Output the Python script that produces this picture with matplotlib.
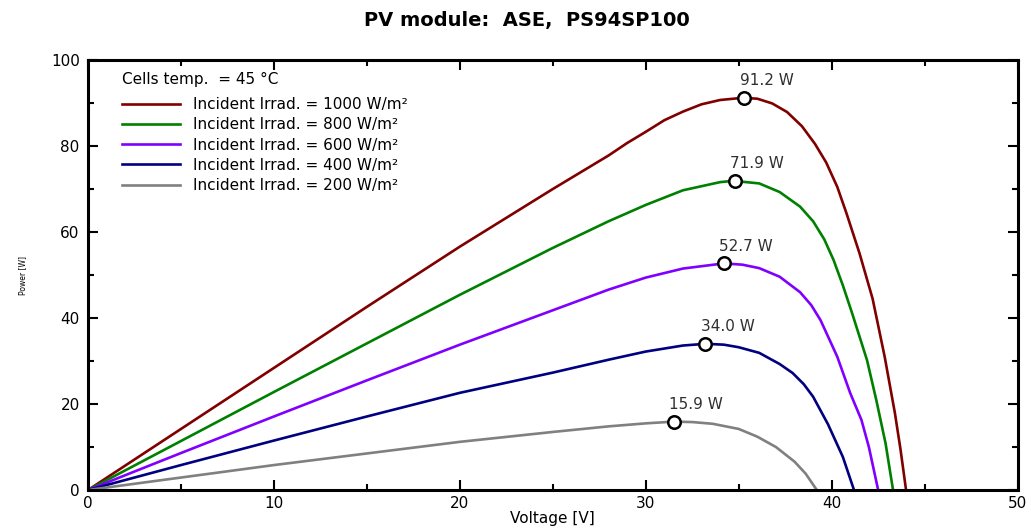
import matplotlib
matplotlib.use("Agg")
import matplotlib.pyplot as plt
from matplotlib.ticker import MultipleLocator

plt.rcParams['font.family'] = ['DejaVu Sans']

# curves: voltage [V] / power [W]
v_1000 = [0, 5, 10, 15, 20, 25, 28, 29, 30, 31, 32, 33, 34, 35.2, 36.0, 36.8, 37.6, 38.4, 39.1, 39.7, 40.3, 40.8, 41.5, 42.2, 42.85, 43.4, 43.7, 44.0]
p_1000 = [0, 14.2, 28.4, 42.6, 56.6, 70.0, 77.8, 80.7, 83.3, 86.0, 88.0, 89.7, 90.7, 91.2, 91.0, 89.9, 87.9, 84.6, 80.5, 76.2, 70.5, 64.3, 55.0, 44.5, 31.0, 17.9, 9.5, 0]
v_800 = [0, 5, 10, 15, 20, 25, 28, 30, 32, 34, 34.7, 36.1, 37.2, 38.3, 39.0, 39.6, 40.1, 40.6, 41.1, 41.9, 42.4, 42.9, 43.3]
p_800 = [0, 11.4, 22.8, 34.1, 45.4, 56.3, 62.5, 66.3, 69.7, 71.6, 71.9, 71.3, 69.3, 65.9, 62.5, 58.3, 53.5, 47.6, 41.1, 30.2, 20.9, 10.8, 0]
v_600 = [0, 5, 10, 15, 20, 25, 28, 30, 32, 34.2, 35.2, 36.1, 37.2, 38.3, 38.9, 39.4, 40.3, 41.0, 41.6, 42.0, 42.5]
p_600 = [0, 8.6, 17.1, 25.5, 33.8, 41.8, 46.6, 49.4, 51.5, 52.7, 52.4, 51.6, 49.6, 46.0, 43.0, 39.5, 31.0, 22.5, 16.3, 10.0, 0]
v_400 = [0, 5, 10, 15, 20, 25, 28, 30, 32, 33.2, 34.2, 35.0, 36.1, 37.2, 37.9, 38.5, 39.0, 39.8, 40.6, 41.2]
p_400 = [0, 5.8, 11.5, 17.1, 22.6, 27.3, 30.3, 32.2, 33.6, 34.0, 33.8, 33.2, 31.9, 29.3, 27.2, 24.6, 21.7, 15.3, 7.7, 0]
v_200 = [0, 5, 10, 15, 20, 25, 28, 30, 31.5, 32.5, 33.6, 35.0, 36.0, 37.0, 38.0, 38.6, 39.2]
p_200 = [0, 2.9, 5.8, 8.5, 11.2, 13.5, 14.8, 15.5, 15.9, 15.8, 15.4, 14.2, 12.4, 10.0, 6.6, 3.8, 0]

# maximum power points
mpp_v = [35.3, 34.8, 34.2, 33.2, 31.5]
mpp_p = [91.2, 71.9, 52.7, 34.0, 15.9]
mpp_labels = ["91.2 W", "71.9 W", "52.7 W", "34.0 W", "15.9 W"]

labels = ["Incident Irrad. = 1000 W/m²", "Incident Irrad. = 800 W/m²",
          "Incident Irrad. = 600 W/m²", "Incident Irrad. = 400 W/m²",
          "Incident Irrad. = 200 W/m²"]
colors = ["#800000", "#008000", "#8000ff", "#000080", "#808080"]

fig = plt.figure(figsize=(10.31, 5.31), dpi=100)
ax = fig.add_axes([0.0854, 0.0772, 0.9016, 0.8098])

curves = [(v_1000, p_1000), (v_800, p_800), (v_600, p_600), (v_400, p_400), (v_200, p_200)]
for (v, p), c, lab in zip(curves, colors, labels):
    ax.plot(v, p, color=c, linewidth=1.9, label=lab)

ax.plot(mpp_v, mpp_p, 'o', markersize=9, markerfacecolor='white',
        markeredgecolor='black', markeredgewidth=1.8, zorder=5)
for x, y, t in zip(mpp_v, mpp_p, mpp_labels):
    ax.annotate(t, (x, y), xytext=(16, 7), textcoords='offset points',
                ha='center', va='bottom', fontsize=11, color='#303030')

ax.set_xlim(0, 50)
ax.set_ylim(0, 100)
ax.xaxis.set_major_locator(MultipleLocator(10))
ax.xaxis.set_minor_locator(MultipleLocator(5))
ax.yaxis.set_major_locator(MultipleLocator(20))
ax.yaxis.set_minor_locator(MultipleLocator(10))
ax.tick_params(which='both', direction='in', top=True, right=True, labelsize=11, width=1.5)
ax.tick_params(which='major', length=7, pad=4)
ax.tick_params(which='minor', length=4)
ax.tick_params(axis='y', which='major', pad=6)
for s in ax.spines.values():
    s.set_linewidth(2.2)

ax.set_xlabel("Voltage [V]", fontsize=11, labelpad=0)
ax.set_ylabel("Power [W]", fontsize=5.5, labelpad=17)
fig.text(0.511, 0.962, "PV module:  ASE,  PS94SP100", ha='center', va='center',
         fontsize=14, fontweight='bold')

leg = ax.legend(loc='upper left', title="Cells temp.  = 45 °C", frameon=False,
                fontsize=11, title_fontsize=11, handlelength=3.8, handletextpad=0.8,
                labelspacing=0.34, alignment='left', bbox_to_anchor=(0.022, 1.003))
leg._legend_box.sep = 7

fig.savefig("out.png", dpi=100)
